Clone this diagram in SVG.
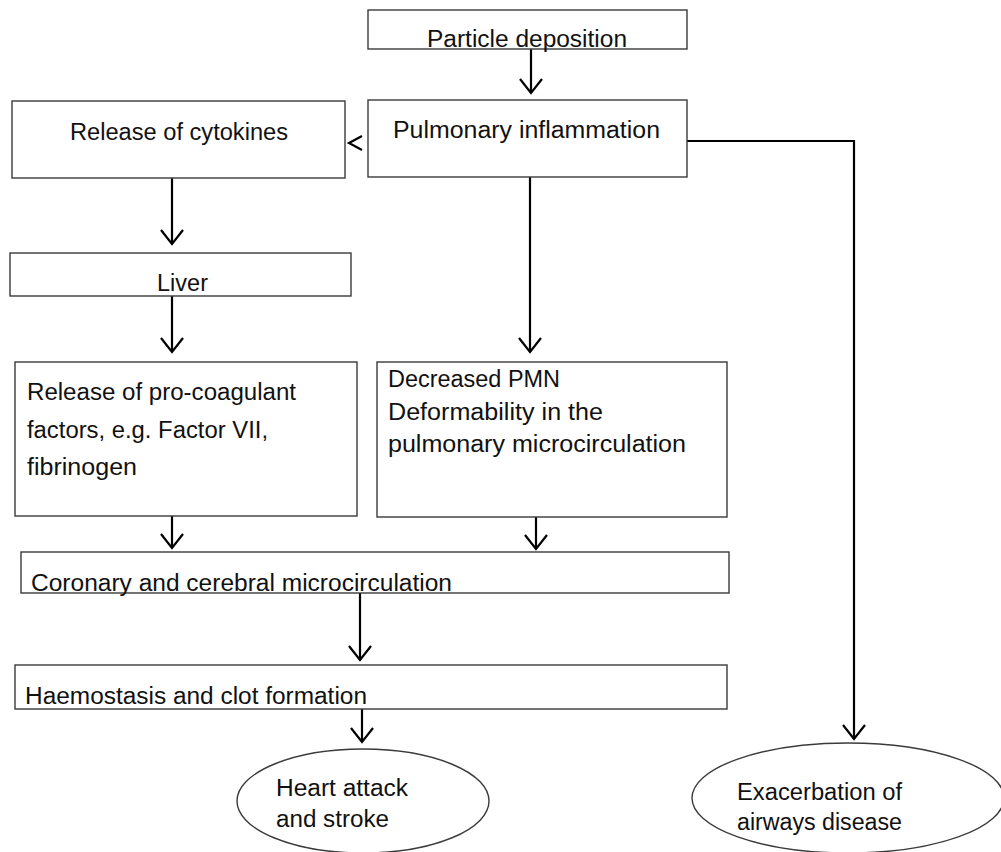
<svg xmlns="http://www.w3.org/2000/svg" width="1001" height="852" viewBox="0 0 1001 852">
<defs>
<marker id="arr" markerUnits="userSpaceOnUse" markerWidth="30" markerHeight="30" refX="15" refY="15" orient="auto" overflow="visible">
<polyline points="1,4 15,15 1,26" fill="none" stroke="#000" stroke-width="2.2"/>
</marker>
</defs>
<style>
.box{fill:#fff;stroke:#3a3a3a;stroke-width:1.4}
.t{font-family:"Liberation Sans",Arial,sans-serif;font-size:23px;fill:#111}
.c{fill:none;stroke:#000;stroke-width:2.2}
</style>
<rect width="1001" height="852" fill="#fff"/>
<g id="connectors">
<line class="c" x1="531" y1="49" x2="531" y2="93" marker-end="url(#arr)"/>
<polyline class="c" points="362,136 349,143 362,150"/>
<line class="c" x1="172" y1="178" x2="172" y2="244" marker-end="url(#arr)"/>
<line class="c" x1="172" y1="296" x2="172" y2="352" marker-end="url(#arr)"/>
<line class="c" x1="530" y1="177" x2="530" y2="352" marker-end="url(#arr)"/>
<line class="c" x1="172" y1="516" x2="172" y2="548" marker-end="url(#arr)"/>
<line class="c" x1="536" y1="517" x2="536" y2="549" marker-end="url(#arr)"/>
<line class="c" x1="360" y1="593" x2="360" y2="660" marker-end="url(#arr)"/>
<line class="c" x1="362" y1="709" x2="362" y2="742" marker-end="url(#arr)"/>
<polyline class="c" points="687,141 854,141 854,739" marker-end="url(#arr)"/>
</g>
<g id="particle">
<rect class="box" x="368" y="10" width="319" height="39"/>
<text class="t" x="427" y="47" textLength="200" lengthAdjust="spacingAndGlyphs">Particle deposition</text>
</g>
<g id="pulmonary">
<rect class="box" x="368" y="100" width="319" height="77"/>
<text class="t" x="393" y="138" textLength="267" lengthAdjust="spacingAndGlyphs">Pulmonary inflammation</text>
</g>
<g id="cytokines">
<rect class="box" x="12" y="101" width="333" height="77"/>
<text class="t" x="70" y="140" textLength="218" lengthAdjust="spacingAndGlyphs">Release of cytokines</text>
</g>
<g id="liver">
<rect class="box" x="10" y="253" width="341" height="43"/>
<text class="t" x="157" y="291" textLength="51" lengthAdjust="spacingAndGlyphs">Liver</text>
</g>
<g id="procoag">
<rect class="box" x="15" y="362" width="342" height="154"/>
<text class="t" x="27" y="400" textLength="269" lengthAdjust="spacingAndGlyphs">Release of pro-coagulant</text>
<text class="t" x="27" y="438" textLength="241" lengthAdjust="spacingAndGlyphs">factors, e.g. Factor VII,</text>
<text class="t" x="27" y="475" textLength="110" lengthAdjust="spacingAndGlyphs">fibrinogen</text>
</g>
<g id="pmn">
<rect class="box" x="377" y="362" width="350" height="155"/>
<text class="t" x="388" y="387" textLength="172" lengthAdjust="spacingAndGlyphs">Decreased PMN</text>
<text class="t" x="388" y="420" textLength="215" lengthAdjust="spacingAndGlyphs">Deformability in the</text>
<text class="t" x="388" y="452" textLength="298" lengthAdjust="spacingAndGlyphs">pulmonary microcirculation</text>
</g>
<g id="coronary">
<rect class="box" x="21" y="552" width="708" height="41"/>
<text class="t" x="31" y="591" font-size="24" textLength="421" lengthAdjust="spacingAndGlyphs">Coronary and cerebral microcirculation</text>
</g>
<g id="haemostasis">
<rect class="box" x="15" y="665" width="712" height="44"/>
<text class="t" x="25" y="704" font-size="24" textLength="342" lengthAdjust="spacingAndGlyphs">Haemostasis and clot formation</text>
</g>
<g id="heart">
<ellipse class="box" cx="363" cy="801" rx="126" ry="52"/>
<text class="t" x="276" y="796" textLength="132" lengthAdjust="spacingAndGlyphs">Heart attack</text>
<text class="t" x="276" y="827" textLength="113" lengthAdjust="spacingAndGlyphs">and stroke</text>
</g>
<g id="airways">
<ellipse class="box" cx="848" cy="798" rx="156" ry="55"/>
<text class="t" x="737" y="800" textLength="165" lengthAdjust="spacingAndGlyphs">Exacerbation of</text>
<text class="t" x="737" y="830" textLength="165" lengthAdjust="spacingAndGlyphs">airways disease</text>
</g>
</svg>
